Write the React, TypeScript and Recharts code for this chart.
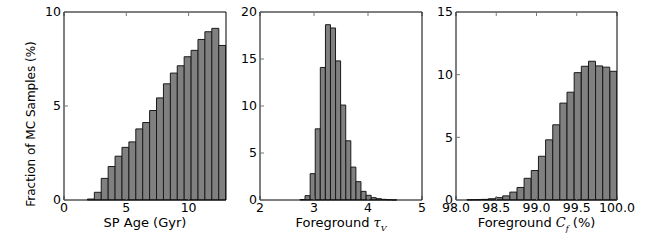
import React from 'react';
import { BarChart, Bar, XAxis, YAxis } from 'recharts';

// bin centres and heights
const ageBins = [2.157, 2.712, 3.266, 3.821, 4.375, 4.93, 5.484, 6.039, 6.593, 7.148, 7.702, 8.257, 8.811, 9.366, 9.92, 10.475, 11.029, 11.584, 12.138, 12.693];
const ageFrac = [0.05, 0.41, 1.15, 1.78, 2.33, 2.8, 3.09, 3.78, 4.12, 4.76, 5.43, 6.18, 6.75, 7.14, 7.62, 7.96, 8.54, 8.95, 9.13, 8.22];

const tauBins = [2.787, 2.881, 2.976, 3.07, 3.164, 3.259, 3.353, 3.447, 3.542, 3.636, 3.73, 3.824, 3.919, 4.013, 4.107, 4.202, 4.296, 4.39, 4.485];
const tauFrac = [0.05, 0.46, 2.8, 7.57, 14.1, 18.65, 18.3, 14.8, 10.1, 6.3, 3.5, 1.95, 0.92, 0.5, 0.25, 0.14, 0.07, 0.03, 0.01];

const cfBins = [98.18, 98.269, 98.358, 98.446, 98.535, 98.624, 98.713, 98.802, 98.89, 98.979, 99.068, 99.157, 99.246, 99.334, 99.423, 99.512, 99.601, 99.69, 99.778, 99.867, 99.956];
const cfFrac = [0.02, 0.03, 0.05, 0.1, 0.19, 0.33, 0.63, 1.0, 1.73, 2.35, 3.49, 4.8, 6.0, 7.73, 8.6, 10.16, 10.67, 11.07, 10.7, 10.6, 10.27];

const ageXTicks = [0, 5, 10];
const ageYTicks = [0, 5, 10];
const tauXTicks = [2, 3, 4, 5];
const tauYTicks = [0, 5, 10, 15, 20];
const cfXTicks = [98, 98.5, 99, 99.5, 100];
const cfYTicks = [0, 5, 10, 15];

const FONT = '"DejaVu Sans", sans-serif';
const tickStyle = { fill: '#000', fontSize: 12.5, fontFamily: FONT };
const blank = () => '';

interface PanelProps {
  left: number;
  plotWidth: number;
  bins: number[];
  values: number[];
  xDomain: [number, number];
  yDomain: [number, number];
  xTicks: number[];
  yTicks: number[];
  xFormat?: (v: number) => string;
  title: React.ReactNode;
}

function Panel({ left, plotWidth, bins, values, xDomain, yDomain, xTicks, yTicks, xFormat, title }: PanelProps) {
  const data = bins.map((b, i) => ({ x: b, y: values[i] }));
  return (
    <>
      <div style={{ position: 'absolute', left: left - 40, top: 0 }}>
        <BarChart
          width={plotWidth + 65}
          height={250}
          data={data}
          margin={{ top: 11, right: 24, bottom: 0, left: 0 }}
          barCategoryGap={0}
          barGap={0}
        >
          <XAxis
            dataKey="x"
            type="number"
            domain={xDomain}
            ticks={xTicks}
            allowDataOverflow
            height={50}
            tickSize={-4}
            tickMargin={7}
            tick={tickStyle}
            tickFormatter={xFormat}
            axisLine={{ stroke: '#000' }}
            tickLine={{ stroke: '#777' }}
            interval={0}
          />
          <XAxis
            xAxisId="top"
            orientation="top"
            dataKey="x"
            type="number"
            domain={xDomain}
            ticks={xTicks}
            allowDataOverflow
            height={1}
            tickSize={-4}
            tickFormatter={blank}
            axisLine={{ stroke: '#000' }}
            tickLine={{ stroke: '#777' }}
            interval={0}
          />
          <YAxis
            type="number"
            domain={yDomain}
            ticks={yTicks}
            width={40}
            tickSize={-4}
            tickMargin={7}
            tick={tickStyle}
            axisLine={{ stroke: '#000' }}
            tickLine={{ stroke: '#777' }}
            interval={0}
          />
          <YAxis
            yAxisId="right"
            orientation="right"
            type="number"
            domain={yDomain}
            ticks={yTicks}
            width={1}
            tickSize={-4}
            tickFormatter={blank}
            axisLine={{ stroke: '#000' }}
            tickLine={{ stroke: '#777' }}
            interval={0}
          />
          <Bar dataKey="y" fill="#808080" stroke="#1a1a1a" strokeWidth={1} isAnimationActive={false} />
        </BarChart>
      </div>
      <div
        style={{
          position: 'absolute',
          left,
          width: plotWidth,
          top: 216,
          lineHeight: '14px',
          textAlign: 'center',
          fontFamily: FONT,
          fontSize: 13,
          color: '#000',
          whiteSpace: 'nowrap',
        }}
      >
        {title}
      </div>
    </>
  );
}

export default function App() {
  return (
    <div style={{ position: 'absolute', left: 0, top: 0, width: 650, height: 250, background: '#fff' }}>
      <div
        style={{
          position: 'absolute',
          left: 31,
          top: 124,
          transform: 'translate(-50%, -50%) rotate(-90deg)',
          fontFamily: FONT,
          fontSize: 12,
          lineHeight: '14px',
          whiteSpace: 'nowrap',
          color: '#000',
        }}
      >
        Fraction of MC Samples (%)
      </div>
      <Panel
        left={64}
        plotWidth={162}
        bins={ageBins}
        values={ageFrac}
        xDomain={[0, 13]}
        yDomain={[0, 10]}
        xTicks={ageXTicks}
        yTicks={ageYTicks}
        title="SP Age (Gyr)"
      />
      <Panel
        left={260}
        plotWidth={162}
        bins={tauBins}
        values={tauFrac}
        xDomain={[2, 5]}
        yDomain={[0, 20]}
        xTicks={tauXTicks}
        yTicks={tauYTicks}
        title={
          <>
            Foreground <i style={{ fontFamily: '"DejaVu Serif", serif' }}>τ</i>
            <sub style={{ fontSize: 8, fontStyle: 'italic', fontFamily: '"DejaVu Serif", serif' }}>V</sub>
          </>
        }
      />
      <Panel
        left={456}
        plotWidth={161}
        bins={cfBins}
        values={cfFrac}
        xDomain={[98, 100]}
        yDomain={[0, 15]}
        xTicks={cfXTicks}
        yTicks={cfYTicks}
        xFormat={(v: number) => v.toFixed(1)}
        title={
          <>
            Foreground <i style={{ fontFamily: '"DejaVu Serif", serif' }}>C</i>
            <sub style={{ fontSize: 8, fontStyle: 'italic', fontFamily: '"DejaVu Serif", serif' }}>f</sub> (%)
          </>
        }
      />
    </div>
  );
}
